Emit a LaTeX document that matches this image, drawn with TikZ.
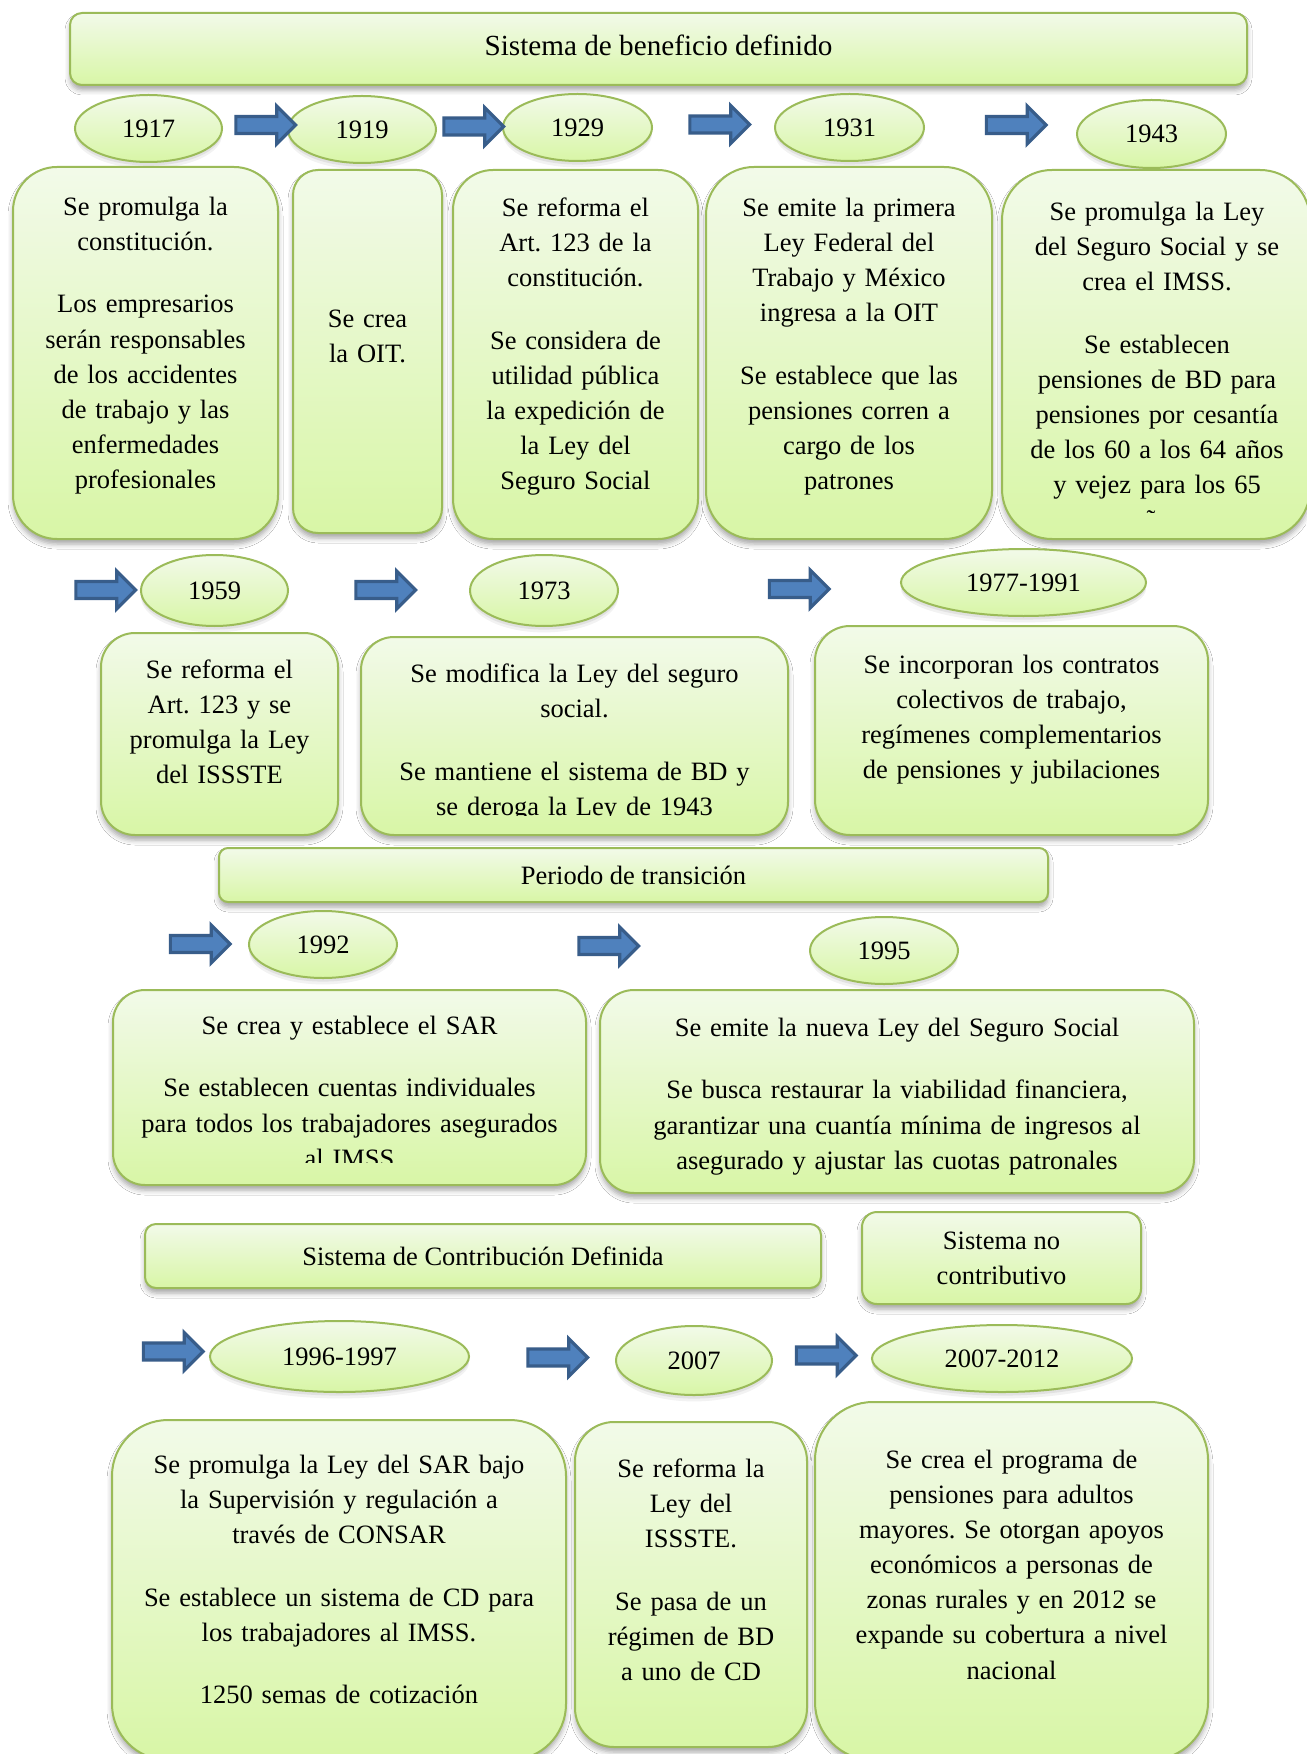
\documentclass[tikz,border=0pt]{standalone}
\usepackage{fontspec}
\setmainfont{Liberation Serif}
\usetikzlibrary{shapes.geometric,shapes.arrows,shadows,shadows.blur}
\definecolor{bord}{HTML}{9BBB59}
\definecolor{gtop}{HTML}{F2FAE9}
\definecolor{gbot}{HTML}{D8F6A6}
\definecolor{afill}{HTML}{4F81BD}
\definecolor{aline}{HTML}{385D8A}
\newcommand{\bodyfnt}{\fontsize{13.25}{17.55}\selectfont\frenchspacing}
\newcommand{\pgap}{\\[13.7pt]}
\tikzset{
  fillgrad/.style={draw=bord, line width=1pt, top color=gtop, bottom color=gbot},
  box/.style={fillgrad, rectangle, inner sep=0pt, align=center, font=\bodyfnt,
    blur shadow={shadow xshift=0pt, shadow yshift=-2.5pt, shadow blur radius=2.5pt, shadow opacity=35}},
  yr/.style={fillgrad, ellipse, inner sep=0pt, font=\bodyfnt,
    drop shadow={opacity=0.10, shadow xshift=0pt, shadow yshift=-3.2pt},
    drop shadow={opacity=0.14, shadow xshift=0pt, shadow yshift=-1.8pt}},
  txt/.style={anchor=north, inner sep=0pt, align=center, font=\bodyfnt},
  barrow/.style={single arrow, single arrow head extend=5.25pt, inner sep=3.45pt,
    minimum height=29.9pt, fill=afill, draw=aline, line width=1.6pt},
}
\begin{document}
\begin{tikzpicture}[x=0.5pt,y=-0.5pt]
\useasboundingbox (0,0) rectangle (1306,1754);
\fill[white] (0,0) rectangle (1306,1754);

% title
\node[box, rounded corners=6pt, minimum width=588.5pt, minimum height=36pt] (title) at (658.5,49) {};
\node[inner sep=0pt, font=\fontsize{14.6}{17.55}\selectfont] (ttitle) at (658.5,45) {Sistema de beneficio definido};

% row 1
\node[yr, minimum width=73.5pt, minimum height=33.5pt] (y1917) at (148.5,128.5) {1917};
\node[yr, minimum width=74pt, minimum height=33.5pt] (y1919) at (362,129.5) {1919};
\node[yr, minimum width=74.5pt, minimum height=33.5pt] (y1929) at (577.5,127.5) {1929};
\node[yr, minimum width=74.5pt, minimum height=33.5pt] (y1931) at (849.5,127.5) {1931};
\node[yr, minimum width=74.5pt, minimum height=34pt] (y1943) at (1151.5,134) {1943};
\node[barrow] (a1) at (261.5,125) {};
\node[barrow] (a2) at (469.5,126.5) {};
\node[barrow] (a3) at (715.5,124.5) {};
\node[barrow] (a4) at (1012,125) {};

\node[box, rounded corners=22pt, minimum width=132.5pt, minimum height=186pt] (b1917) at (145.5,353) {};
\node[box, rounded corners=12.5pt, minimum width=74.5pt, minimum height=181.5pt] (b1919) at (367.5,351.5) {};
\node[box, rounded corners=20pt, minimum width=122.5pt, minimum height=184.5pt] (b1929) at (575.5,354.5) {};
\node[box, rounded corners=24pt, minimum width=143pt, minimum height=186pt] (b1931) at (849,353) {};
\node[box, rounded corners=25pt, minimum width=154pt, minimum height=184.5pt] (b1943) at (1156,354.5) {};

\node[txt, text width=126pt] (t1917) at (145.5,191) {\rule{0pt}{12pt}Se promulga la\\ constitución.\pgap Los empresarios\\ serán responsables\\ de los accidentes\\ de trabajo y las\\ enfermedades\\ profesionales};
\node[txt, text width=70pt] (t1919) at (367.5,303) {\rule{0pt}{12pt}Se crea\\ la OIT.};
\node[txt, text width=118pt] (t1929) at (575.5,192) {\rule{0pt}{12pt}Se reforma el\\ Art. 123 de la\\ constitución.\pgap Se considera de\\ utilidad pública\\ la expedición de\\ la Ley del\\ Seguro Social};
\node[txt, text width=138pt] (t1931) at (849,192) {\rule{0pt}{12pt}Se emite la primera\\ Ley Federal del\\ Trabajo y México\\ ingresa a la OIT\pgap Se establece que las\\ pensiones corren a\\ cargo de los\\ patrones};
\begin{scope}
\clip (1002,170) rectangle (1306,512.5);
\node[txt, text width=146pt] (t1943) at (1157,196) {\rule{0pt}{12pt}Se promulga la Ley\\ del Seguro Social y se\\ crea el IMSS.\pgap Se establecen\\ pensiones de BD para\\ pensiones por cesantía\\ de los 60 a los 64 años\\ y vejez para los 65\\ años};
\end{scope}

% row 2
\node[barrow] (b1) at (101.5,590) {};
\node[barrow] (b2) at (381.5,590) {};
\node[barrow] (b3) at (795,589) {};
\node[yr, minimum width=73.5pt, minimum height=35.5pt] (y1959) at (214.5,590.5) {1959};
\node[yr, minimum width=74pt, minimum height=35.5pt] (y1973) at (544,590.5) {1973};
\node[yr, minimum width=122.5pt, minimum height=33.5pt] (y1977) at (1023.5,582.5) {1977-1991};

\node[box, rounded corners=17pt, minimum width=118.5pt, minimum height=101pt] (b1959) at (219.5,734) {};
\node[box, rounded corners=16.5pt, minimum width=213.5pt, minimum height=99pt] (b1973) at (574.5,736) {};
\node[box, rounded corners=17.5pt, minimum width=196.5pt, minimum height=104.5pt] (b1977) at (1011.5,730.5) {};

\node[txt, text width=112pt] (t1959) at (219.5,654) {\rule{0pt}{12pt}Se reforma el\\ Art. 123 y se\\ promulga la Ley\\ del ISSSTE};
\begin{scope}
\clip (361,637) rectangle (788,815);
\node[txt, text width=206pt] (t1973) at (574.5,658) {\rule{0pt}{12pt}Se modifica la Ley del seguro\\ social.\pgap Se mantiene el sistema de BD y\\ se deroga la Ley de 1943};
\end{scope}
\node[txt, text width=190pt] (t1977) at (1011.5,649) {\rule{0pt}{12pt}Se incorporan los contratos\\ colectivos de trabajo,\\ regímenes complementarios\\ de pensiones y jubilaciones};

\node[box, rounded corners=4.5pt, minimum width=414.5pt, minimum height=27pt] (periodo) at (633.5,875) {Periodo de transición};

% row 3
\node[barrow] (c1) at (196,944) {};
\node[barrow] (c2) at (604.5,946) {};
\node[yr, minimum width=74pt, minimum height=33.5pt] (y1992) at (323,944.5) {1992};
\node[yr, minimum width=74pt, minimum height=33.5pt] (y1995) at (884,950.5) {1995};

\node[box, rounded corners=16pt, minimum width=236.5pt, minimum height=97.5pt] (b1992) at (349.5,1087.5) {};
\node[box, rounded corners=17pt, minimum width=297pt, minimum height=101.5pt] (b1995) at (897,1091.5) {};
\begin{scope}
\clip (113,990) rectangle (586,1162);
\node[txt, text width=230pt] (t1992) at (349.5,1010) {\rule{0pt}{12pt}Se crea y establece el SAR\pgap Se establecen cuentas individuales\\ para todos los trabajadores asegurados\\ al IMSS};
\end{scope}
\node[txt, text width=290pt] (t1995) at (897,1012) {\rule{0pt}{12pt}Se emite la nueva Ley del Seguro Social\pgap Se busca restaurar la viabilidad financiera,\\ garantizar una cuantía mínima de ingresos al\\ asegurado y ajustar las cuotas patronales};

\node[box, rounded corners=5.5pt, minimum width=338pt, minimum height=32pt] (scd) at (483,1256) {Sistema de Contribución Definida};
\node[box, rounded corners=7.5pt, minimum width=139.5pt, minimum height=46pt] (snc) at (1001.5,1258) {Sistema no\\ contributivo};

% row 4
\node[barrow] (d1) at (169,1351.5) {};
\node[barrow] (d2) at (553.5,1357.5) {};
\node[barrow] (d3) at (822,1355.5) {};
\node[yr, minimum width=129.5pt, minimum height=35.5pt] (y1996) at (339.5,1356.5) {1996-1997};
\node[yr, minimum width=78pt, minimum height=34.5pt] (y2007) at (694,1360.5) {2007};
\node[yr, minimum width=130pt, minimum height=33.5pt] (y2012) at (1002,1358.5) {2007-2012};

\node[box, rounded corners=28pt, minimum width=227pt, minimum height=170pt] (b1996) at (339,1590) {};
\node[box, rounded corners=19.5pt, minimum width=116pt, minimum height=162.5pt] (b2007) at (691,1584.5) {};
\node[box, rounded corners=29pt, minimum width=196.5pt, minimum height=179pt] (b2012) at (1011.5,1581) {};

\node[txt, text width=220pt] (t1996) at (339,1449) {\rule{0pt}{12pt}Se promulga la Ley del SAR bajo\\ la Supervisión y regulación a\\ través de CONSAR\pgap Se establece un sistema de CD para\\ los trabajadores al IMSS.\pgap 1250 semas de cotización};
\node[txt, text width=110pt] (t2007) at (691,1453) {\rule{0pt}{12pt}Se reforma la\\ Ley del\\ ISSSTE.\pgap Se pasa de un\\ régimen de BD\\ a uno de CD};
\node[txt, text width=190pt] (t2012) at (1011.5,1444) {\rule{0pt}{12pt}Se crea el programa de\\ pensiones para adultos\\ mayores. Se otorgan apoyos\\ económicos a personas de\\ zonas rurales y en 2012 se\\ expande su cobertura a nivel\\ nacional};
\end{tikzpicture}
\end{document}
